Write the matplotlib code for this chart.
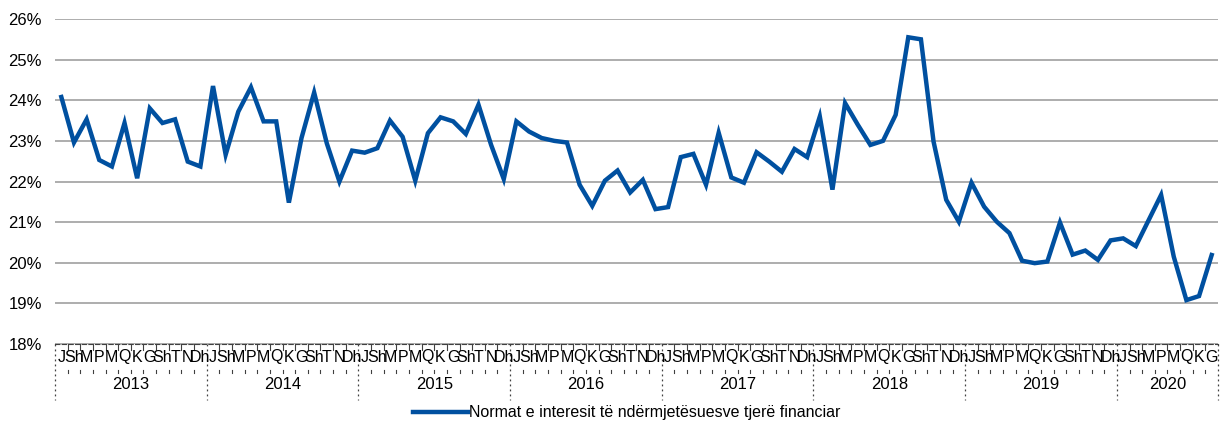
import numpy as np
import matplotlib
matplotlib.use("Agg")
import matplotlib.pyplot as plt
from matplotlib.transforms import blended_transform_factory

plt.rcParams['font.family'] = ['Liberation Sans', 'DejaVu Sans']

# te dhenat mujore (%)
years = ['2013', '2014', '2015', '2016', '2017', '2018', '2019', '2020']
months = ['J', 'Sh', 'M', 'P', 'M', 'Q', 'K', 'G', 'Sh', 'T', 'N', 'Dh']
months_per_year = [12, 12, 12, 12, 12, 12, 12, 8]

rate = [24.08, 22.96, 23.53, 22.53, 22.37, 23.44, 22.08, 23.80, 23.44, 23.53, 22.49, 22.37,
        24.35, 22.66, 23.72, 24.32, 23.48, 23.48, 21.48, 23.07, 24.19, 22.94, 22.00, 22.76,
        22.71, 22.82, 23.50, 23.10, 22.02, 23.19, 23.58, 23.48, 23.17, 23.89, 22.90, 22.06,
        23.48, 23.23, 23.07, 23.00, 22.96, 21.92, 21.40, 22.02, 22.27, 21.73, 22.04, 21.32,
        21.37, 22.60, 22.68, 21.92, 23.20, 22.10, 21.97, 22.72, 22.49, 22.24, 22.80, 22.60,
        23.60, 21.80, 23.93, 23.40, 22.90, 23.00, 23.64, 25.55, 25.50, 22.98, 21.55, 21.01,
        21.97, 21.38, 21.01, 20.73, 20.05, 19.99, 20.03, 20.99, 20.20, 20.30, 20.07, 20.55,
        20.60, 20.41, 21.04, 21.67, 20.15, 19.08, 19.18, 20.19]

label = 'Normat e interesit të ndërmjetësuesve tjerë financiar'

fig = plt.figure(figsize=(12.22, 4.22), dpi=100)
ax = fig.add_axes([55 / 1222, 1 - 344 / 422, 1163 / 1222, 325 / 422])

x = np.arange(len(rate))
ax.plot(x, rate, color='#0050A0', lw=3.2, label=label, solid_joinstyle='miter')

ax.set_xlim(-0.5, len(rate) - 0.5)
ax.set_ylim(18, 26)
ax.set_yticks(range(18, 27))
ax.set_yticklabels([f'{v}%' for v in range(18, 27)], fontsize=12)
ax.yaxis.grid(True, color='#A0A0A0', lw=1.2)
ax.set_axisbelow(True)
ax.tick_params(axis='y', length=0, pad=9.5)
ax.set_xticks([])
for s in ['top', 'left', 'right']:
    ax.spines[s].set_visible(False)
ax.spines['bottom'].set_linestyle((0, (4, 2)))
ax.spines['bottom'].set_color('#404040')
ax.spines['bottom'].set_linewidth(0.8)

tr = blended_transform_factory(ax.transData, ax.transAxes)

# etiketat e muajve dhe viteve
i = 0
for y, n in zip(years, months_per_year):
    ax.plot([i - 0.5, i - 0.5], [0, -0.172], transform=tr, clip_on=False,
            color='#404040', lw=0.9, ls=(0, (1.5, 2.5)))
    for k in range(n):
        ax.text(i + k, -0.04, months[k], transform=tr, ha='center', va='center',
                fontsize=11.5)
        if k > 0:
            ax.plot([i + k - 0.5] * 2, [0, -0.018], transform=tr, clip_on=False,
                    color='#404040', lw=0.8)
            ax.plot([i + k - 0.5] * 2, [-0.08, -0.088], transform=tr, clip_on=False,
                    color='#404040', lw=0.8)
    ax.text(i + (n - 1) / 2, -0.126, y, transform=tr, ha='center', va='center',
            fontsize=12)
    i += n
ax.plot([i - 0.5, i - 0.5], [0, -0.172], transform=tr, clip_on=False,
        color='#404040', lw=0.9, ls=(0, (1.5, 2.5)))

fig.legend(loc='center', bbox_to_anchor=(0.513, 1 - 413 / 422), frameon=False,
           fontsize=11.5, handlelength=3.4, handletextpad=0.1)

fig.savefig('out.png', dpi=100)
